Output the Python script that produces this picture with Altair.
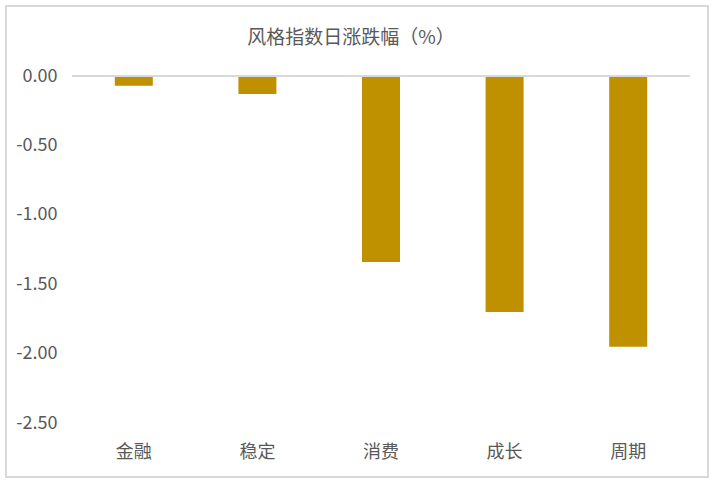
import altair as alt
import pandas as pd

categories = ["金融", "稳定", "消费", "成长", "周期"]
values = [-0.07, -0.13, -1.34, -1.70, -1.95]
y_ticks = [0, -0.5, -1.0, -1.5, -2.0, -2.5]
title_text = "风格指数日涨跌幅（%）"

FONT = "Noto Sans CJK SC"
GRAY = "#595959"
BAR = "#BF9000"
LINE = "#D9D9D9"

df = pd.DataFrame({"cat": categories, "val": values})

bars = alt.Chart(df).mark_bar(size=38, color=BAR).encode(
    x=alt.X(
        "cat:N",
        sort=categories,
        scale=alt.Scale(paddingInner=0, paddingOuter=0),
        axis=alt.Axis(
            title=None, labelAngle=0, domain=False, ticks=False,
            labelPadding=20, labelFontSize=18, labelColor=GRAY, labelFont=FONT,
        ),
    ),
    y=alt.Y(
        "val:Q",
        scale=alt.Scale(domain=[-2.5, 0], nice=False, zero=False),
        axis=alt.Axis(
            title=None, values=y_ticks, grid=False, domain=False, ticks=False,
            labelExpr="replace(format(datum.value, '.2f'), '\u2212', '-')",
            labelPadding=15, labelFontSize=18, labelColor=GRAY, labelFont=FONT,
        ),
    ),
)

zero = alt.Chart(df).mark_rule(color=LINE, strokeWidth=1.5).encode(
    y=alt.datum(0)
)

border = alt.Chart(pd.DataFrame({"b": [0]})).mark_rect(
    fillOpacity=0, stroke=LINE, strokeWidth=2
).encode(
    x=alt.value(-66), x2=alt.value(636), y=alt.value(-70), y2=alt.value(401)
)

title = alt.Chart(pd.DataFrame({"t": [title_text]})).mark_text(
    font=FONT, fontSize=19, color=GRAY, align="center", baseline="middle"
).encode(
    text="t:N", x=alt.value(279), y=alt.value(-38)
)

chart = alt.layer(bars, zero, border, title).properties(
    width=618,
    height=347,
    autosize=alt.AutoSizeParams(type="none"),
    padding={"left": 72, "top": 76, "right": 25, "bottom": 62},
).configure(
    background="white",
    view=alt.ViewConfig(stroke="transparent"),
)

chart.save("out.html", embed_options={"renderer": "svg", "actions": False})
